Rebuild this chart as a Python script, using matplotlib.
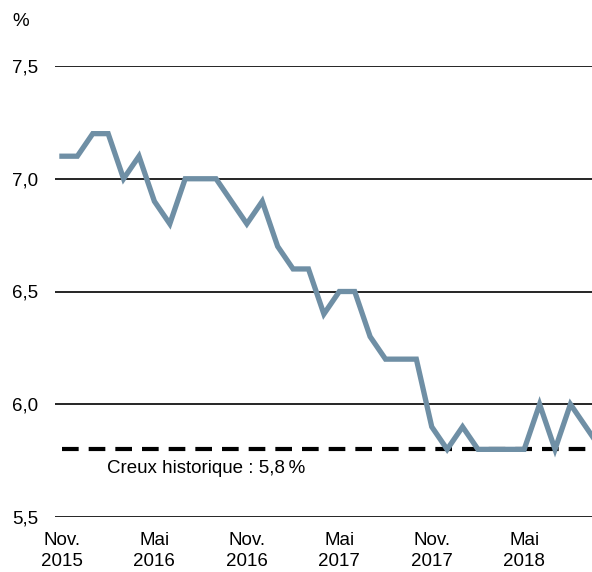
import matplotlib
matplotlib.use("Agg")
import matplotlib.pyplot as plt
import numpy as np

plt.rcParams['font.family'] = ['Liberation Sans', 'DejaVu Sans']

# Monthly data, Nov 2015 .. Oct 2018
values = [7.1, 7.1, 7.2, 7.2, 7.0, 7.1, 6.9, 6.8, 7.0, 7.0, 7.0, 6.9,
          6.8, 6.9, 6.7, 6.6, 6.6, 6.4, 6.5, 6.5, 6.3, 6.2, 6.2, 6.2,
          5.9, 5.8, 5.9, 5.8, 5.8, 5.8, 5.8, 6.0, 5.8, 6.0, 5.9, 5.8]
tick_pos = [0, 6, 12, 18, 24, 30]
tick_labels = ["Nov.\n2015", "Mai\n2016", "Nov.\n2016", "Mai\n2017", "Nov.\n2017", "Mai\n2018"]
y_ticks = [5.5, 6.0, 6.5, 7.0, 7.5]
y_tick_labels = ["5,5", "6,0", "6,5", "7,0", "7,5"]
record_low = 5.8
record_label = "Creux historique : 5,8\u202f%"

fig = plt.figure(figsize=(5.92, 5.72), dpi=100)
ax = fig.add_axes([55/592, 1 - 517/572, 1 - 55/592, (517 - 66)/572])

x = np.arange(len(values))
for yv in y_ticks:
    ax.axhline(yv, color='black', lw=1.2, zorder=1)
ax.plot(x, values, color='#6f8fa5', lw=3.8, solid_joinstyle='miter', zorder=3)
ax.plot([0, len(values)], [record_low, record_low], color='black', lw=3.0,
        dashes=(4.0, 2.4), zorder=2)
ax.text(2.95, record_low - 0.085, record_label, fontsize=13.5, va='center', ha='left')

ax.set_xlim(-0.45, 34.4)
ax.set_ylim(5.5, 7.5)
ax.set_yticks(y_ticks)
ax.set_yticklabels(y_tick_labels, fontsize=13.5)
ax.set_xticks(tick_pos)
ax.set_xticklabels(tick_labels, fontsize=13.5, linespacing=1.28)
ax.tick_params(axis='both', length=0)
ax.tick_params(axis='y', pad=12)
ax.tick_params(axis='x', pad=11)
for s in ax.spines.values():
    s.set_visible(False)
fig.text(12/592, 1 - 22/572, "%", fontsize=13.5, va='center', ha='left')

fig.savefig("out.png", dpi=100)
